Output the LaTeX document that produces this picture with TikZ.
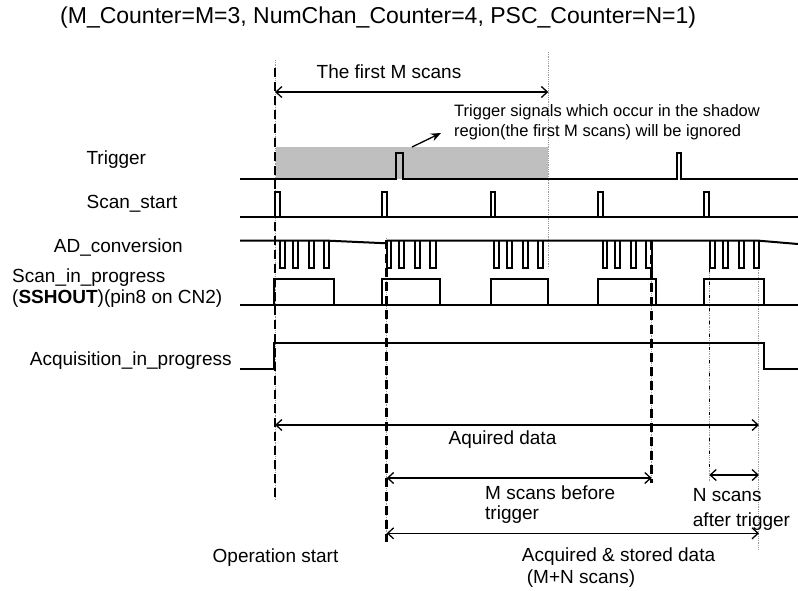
\documentclass[tikz,border=0pt]{standalone}
\usepackage{fontspec}
\setmainfont{Liberation Sans}
\usetikzlibrary
  {
    arrows.meta,              % barbed and filled arrow heads
    positioning,              % place nodes relative to other nodes
  }

\begin{document}
\begin{tikzpicture}
    [
      x=1pt, y=-1pt,
      % Styles
      signal/.style={line width=2pt},
      marker/.style={line width=2.6pt, dash pattern=on 9pt off 5pt},
      thin marker/.style={line width=1.6pt, dash pattern=on 3pt off 10pt},
      guide/.style={guidecolor, line width=0.8pt, densely dotted},
      span/.style={line width=1.3pt,
        {Straight Barb[length=6pt,width=11pt]}-{Straight Barb[length=6pt,width=11pt]}},
      label text/.style={font=\fontsize{19}{23}\selectfont, inner sep=0pt},
      note text/.style={font=\fontsize{16.5}{20}\selectfont, inner sep=0pt, align=left}
    ]

    % Colors
    \colorlet{shadowcolor}{black!25}
    \colorlet{guidecolor}{black!40}

    \useasboundingbox (0,0) rectangle (798,590);

    % shadow region (the first M scans)
    \fill [shadowcolor] (275.7,147.3) rectangle (548.3,179.3);

    % time markers
    \coordinate (t0) at (275,0);
    \coordinate (t1) at (386.7,0);
    \coordinate (t2) at (651.7,0);
    \coordinate (t3) at (709.3,0);
    \coordinate (t4) at (758.7,0);
    \coordinate (t5) at (548.3,0);

    \draw [guide] (t0 |- 0,60) -- (t0 |- 0,500);
    \draw [guide] (t1 |- 0,238) -- (t1 |- 0,542);
    \draw [guide] (t2 |- 0,241) -- (t2 |- 0,483);
    \draw [guide] (t3 |- 0,241) -- (t3 |- 0,482);
    \draw [guide] (t4 |- 0,241) -- (t4 |- 0,550);
    \draw [guide] (t5 |- 0,52) -- (t5 |- 0,268);

    % Trigger
    \draw [signal] (240,179.3) -- (396,179.3) -- (396,153.3) -- (402.7,153.3) -- (402.7,179.3)
      -- (676.7,179.3) -- (676.7,153.3) -- (680.7,153.3) -- (680.7,179.3) -- (798,179.3);

    % Scan_start
    \draw [signal] (240,217.3) -- (798,217.3);
    \foreach \s in {275, 382.3, 490.7, 598.3, 704.3}
    {
      \draw [signal] (\s,217.3) -- (\s,191.7) -- ++(4.5,0) -- ++(0,25.6);
    }

    % AD_conversion
    \draw [signal] (240,240.7) -- (329,240.7) -- (386.7,243.3);
    \draw [signal] (386.7,240.7) -- (759,240.7) -- (798,244);
    \foreach \g in {280, 386.7, 494.3, 602.7, 710}
    {
      \foreach \a/\b in {0/4.5, 12.5/17.5, 28.5/33.5, 43.5/49}
      {
        \draw [signal] ({\g+\a},240.7) -- ({\g+\a},267.7) -- ({\g+\b},267.7) -- ({\g+\b},240.7);
      }
    }

    % Scan_in_progress
    \draw [signal] (240,305) -- (798,305);
    \foreach \r/\f in {274/334.3, 382.3/440, 490.7/548.3, 598.3/656, 704.3/764.3}
    {
      \draw [signal] (\r,305) -- (\r,279.3) -- (\f,279.3) -- (\f,305);
    }

    % Acquisition_in_progress
    \draw [signal] (240,369) -- (274,369) -- (274,343.3) -- (764.3,343.3) -- (764.3,369) -- (798,369);

    % black markers on top
    \draw [marker] (t0 |- 0,68) -- (t0 |- 0,500);
    \draw [marker] (t1 |- 0,240) -- (t1 |- 0,542);
    \draw [marker] (t2 |- 0,241) -- (t2 |- 0,483);
    \draw [thin marker] (t3 |- 0,243) -- (t3 |- 0,470);

    % signal names
    \node (title) [label text, font=\fontsize{23}{26}\selectfont, anchor=west] at (60,18)
      {(M\_Counter=M=3, NumChan\_Counter=4, PSC\_Counter=N=1)};
    \node (trig) [label text] at (116.3,160) {Trigger};
    \node (scanstart) [label text] at (132,204) {Scan\_start};
    \node (adconv) [label text] at (118.3,247.3) {AD\_conversion};
    \node (scanprog) [label text, font=\fontsize{19}{21}\selectfont, align=left, anchor=west] at (12,288.5)
      {Scan\_in\_progress\\(\textbf{SSHOUT})(pin8 on CN2)};
    \node (acqprog) [label text] at (130.8,360.7) {Acquisition\_in\_progress};

    % first M scans
    \coordinate (firstM l) at (275,92);
    \coordinate (firstM r) at (548.3,92);
    \draw [span] (firstM l) -- (firstM r);
    \node (firstM) [label text] at (389,72) {The first M scans};

    \node (note) [note text, anchor=west] at (454,122)
      {Trigger signals which occur in the shadow\\region(the first M scans) will be ignored};
    \coordinate (note tail) at (412,147);
    \coordinate (note head) at (441,133);
    \draw [line width=1.3pt, -{Stealth[length=10pt,width=8pt]}] (note tail) -- (note head);

    % data ranges
    \coordinate (acq l) at (275,425);
    \coordinate (acq r) at (759,425);
    \draw [span] (acq l) -- (acq r);
    \node (acq) [label text] at (502.5,440) {Aquired data};

    \coordinate (before l) at (386.7,478);
    \coordinate (before r) at (651.7,478);
    \draw [span] (before l) -- (before r);
    \node (before) [label text, font=\fontsize{19}{20}\selectfont, align=left, anchor=west] at (485,505)
      {M scans before\\trigger};

    \coordinate (after l) at (709.3,475);
    \coordinate (after r) at (759,475);
    \draw [span] (after l) -- (after r);
    \node (after) [label text, font=\fontsize{19}{25}\selectfont, align=left, anchor=west] at (692.7,509.5)
      {N scans\\after trigger};

    \coordinate (stored l) at (386.7,533.3);
    \coordinate (stored r) at (759,533.3);
    \draw [span] (stored l) -- (stored r);
    \node (stored) [label text, font=\fontsize{19}{21.6}\selectfont, align=left, anchor=west] at (521.7,567.5)
      {Acquired \& stored data\\\hspace*{5pt}(M+N scans)};

    \node (opstart) [label text] at (275.5,558) {Operation start};
  \end{tikzpicture}
\end{document}
